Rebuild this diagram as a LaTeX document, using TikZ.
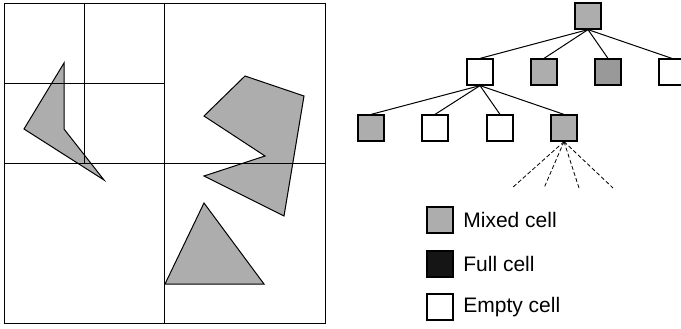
\documentclass[tikz,border=0pt]{standalone}
\usepackage{fontspec}
\newfontfamily\legendfont{Liberation Sans}
\usepackage{tikz}
\usetikzlibrary{positioning,calc}
\definecolor{cellgray}{HTML}{ADADAD}
\definecolor{darkgray}{HTML}{999999}
\definecolor{fullgray}{HTML}{151515}

\begin{document}
\begin{tikzpicture}[x=0.5pt,y=-0.5pt,
    cell/.style={draw,line width=0.6pt,minimum size=13pt,inner sep=0pt},
    mixedcell/.style={cell,fill=cellgray},
    darkcell/.style={cell,fill=darkgray},
    fullcell/.style={cell,fill=fullgray},
    emptycell/.style={cell,fill=white},
    treeedge/.style={line width=0.5pt},
    subedge/.style={line width=0.4pt,dash pattern=on 2pt off 1.2pt},
    quadline/.style={line width=0.5pt},
    obstacle/.style={draw,line width=0.5pt,fill=cellgray},
    legendtext/.style={anchor=west,font=\legendfont\fontsize{10.5pt}{12pt}\selectfont,inner sep=0pt}
  ]
    \useasboundingbox (0,0) rectangle (681,328);

    % Quadtree subdivision of the space
    \draw[quadline] (4,3) rectangle (325,323);
    \draw[quadline] (164,3) -- (164,323);
    \draw[quadline] (4,163) -- (325,163);
    \draw[quadline] (84,3) -- (84,163);
    \draw[quadline] (4,83) -- (164,83);

    % Obstacles
    \draw[obstacle] (64,63) -- (64,129) -- (104,180) -- (24,129) -- cycle;
    \draw[obstacle] (245,76) -- (304,96) -- (284,216) -- (204,176) -- (265,156) -- (204,116) -- cycle;
    \draw[obstacle] (204,203) -- (264,284) -- (165,284) -- cycle;
    % grid lines lying over the shapes
    \draw[quadline] (40,83) -- (64,83);
    \draw[quadline] (84,148) -- (84,163);
    \draw[quadline] (70,163) -- (104,163);
    \draw[quadline] (230,163) -- (300,163);

    % Tree nodes
    \node[mixedcell] (root) at (588,16) {};
    \node[emptycell] (a) at (480,72) {};
    \node[mixedcell] (b) at (544,72) {};
    \node[darkcell] (c) at (608,72) {};
    \node[emptycell] (d) at (672,72) {};
    \node[mixedcell] (a1) at (371,128) {};
    \node[emptycell] (a2) at (435,128) {};
    \node[emptycell] (a3) at (500,128) {};
    \node[mixedcell] (a4) at (564,128) {};

    % Edges
    \foreach \n in {a,b,c,d}
      \draw[treeedge] (root.south) -- (\n.north);
    \foreach \n in {a1,a2,a3,a4}
      \draw[treeedge] (a.south) -- (\n.north);

    % Further subdivision
    \coordinate (s1) at (512,188);
    \coordinate (s2) at (544,188);
    \coordinate (s3) at (579,188);
    \coordinate (s4) at (613,188);
    \foreach \n in {s1,s2,s3,s4}
      \draw[subedge] (a4.south) -- (\n);

    % Legend
    \node[mixedcell] (lmixed) at (440,220) {};
    \node[fullcell] (lfull) at (440,264) {};
    \node[emptycell] (lempty) at (440,307) {};
    \node[legendtext] (tmixed) at (463,220) {Mixed cell};
    \node[legendtext] (tfull) at (463,264) {Full cell};
    \node[legendtext] (tempty) at (463,307) {Empty cell};
  \end{tikzpicture}
\end{document}
